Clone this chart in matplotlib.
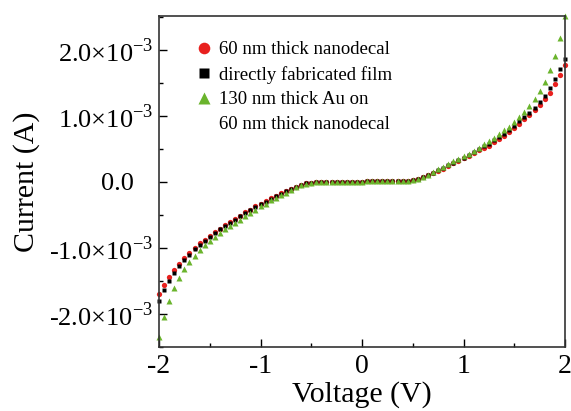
import matplotlib
matplotlib.use("Agg")
import matplotlib.pyplot as plt
from matplotlib.ticker import FuncFormatter, MultipleLocator
import numpy as np

plt.rcParams['font.family'] = ['Liberation Serif', 'DejaVu Serif']
plt.rcParams['mathtext.fontset'] = 'custom'
plt.rcParams['mathtext.rm'] = 'Liberation Serif'
plt.rcParams['axes.unicode_minus'] = False

# voltage sweep, -2 V to 2 V in 0.05 V steps
voltage = np.round(np.arange(-2.0, 2.0001, 0.05), 2)

flat_neg = [-0.005] * 10          # -0.45 .. 0.00
flat_pos = [0.015] * 9            # 0.05 .. 0.45

# currents in units of 1e-3 A
i_nanodecal = ([-1.70, -1.56, -1.44, -1.33, -1.24, -1.15, -1.07, -1.00, -0.93, -0.88,
                -0.82, -0.76, -0.71, -0.65, -0.60, -0.56, -0.51, -0.46, -0.42, -0.37,
                -0.33, -0.29, -0.25, -0.21, -0.17, -0.14, -0.10, -0.07, -0.04, -0.02,
                -0.01] + flat_neg + flat_pos +
               [0.03, 0.04, 0.07, 0.10, 0.13, 0.17, 0.20, 0.24, 0.28, 0.32,
                0.36, 0.40, 0.44, 0.48, 0.52, 0.55, 0.60, 0.65, 0.70, 0.76,
                0.82, 0.88, 0.95, 1.02, 1.09, 1.17, 1.25, 1.35, 1.48, 1.62, 1.77])

i_direct = ([-1.80, -1.64, -1.50, -1.38, -1.28, -1.18, -1.10, -1.02, -0.96, -0.90,
             -0.84, -0.78, -0.72, -0.67, -0.62, -0.57, -0.52, -0.47, -0.43, -0.38,
             -0.34, -0.30, -0.26, -0.22, -0.18, -0.14, -0.11, -0.07, -0.04, -0.02,
             -0.01] + flat_neg + flat_pos +
            [0.03, 0.045, 0.075, 0.105, 0.14, 0.18, 0.21, 0.25, 0.29, 0.33,
             0.37, 0.41, 0.45, 0.50, 0.54, 0.58, 0.63, 0.68, 0.73, 0.79,
             0.85, 0.92, 0.99, 1.05, 1.12, 1.21, 1.31, 1.43, 1.56, 1.71, 1.87])

i_au = ([-2.35, -2.04, -1.80, -1.61, -1.45, -1.32, -1.21, -1.12, -1.03, -0.96,
         -0.89, -0.83, -0.78, -0.72, -0.67, -0.62, -0.57, -0.52, -0.47, -0.42,
         -0.37, -0.33, -0.28, -0.24, -0.20, -0.16, -0.12, -0.08, -0.05, -0.025,
         -0.01] + flat_neg + flat_pos +
        [0.03, 0.045, 0.075, 0.11, 0.15, 0.19, 0.22, 0.27, 0.31, 0.35,
         0.39, 0.43, 0.47, 0.52, 0.57, 0.62, 0.67, 0.72, 0.78, 0.84,
         0.91, 0.98, 1.06, 1.15, 1.25, 1.38, 1.52, 1.70, 1.91, 2.18, 2.52])

labels = ["60 nm thick nanodecal", "directly fabricated film",
          "130 nm thick Au on", "60 nm thick nanodecal"]

fig = plt.figure(figsize=(5.71, 4.11), dpi=100)
ax = fig.add_axes([0.2785, 0.156, 0.711, 0.805])

ax.plot(voltage, np.array(i_nanodecal) * 1e-3, 'o', color='#e8201e', ms=3.8,
        mec='none', label=labels[0], clip_on=False)
ax.plot(voltage, np.array(i_direct) * 1e-3, 's', color='black', ms=3.4,
        mec='none', label=labels[1], clip_on=False)
ax.plot(voltage, np.array(i_au) * 1e-3, '^', color='#6ab42c', ms=4.2,
        mec='none', label=labels[2], clip_on=False)
# second line of the third legend entry, no marker
ax.plot([], [], ' ', label=labels[3])

ax.set_xlim(-2, 2)
ax.set_ylim(-2.5e-3, 2.515e-3)
ax.xaxis.set_major_locator(MultipleLocator(1))
ax.xaxis.set_minor_locator(MultipleLocator(0.5))
ax.yaxis.set_major_locator(MultipleLocator(1e-3))
ax.yaxis.set_minor_locator(MultipleLocator(0.5e-3))


def fmt_current(v, pos):
    if abs(v) < 1e-9:
        return "0.0   "
    return "%.1f×10$^{\\mathregular{-3}}$" % (v * 1e3)


ax.yaxis.set_major_formatter(FuncFormatter(fmt_current))
ax.xaxis.set_major_formatter(FuncFormatter(lambda v, p: "%d" % round(v)))

ax.tick_params(which='both', direction='in', top=False, right=False)
ax.tick_params(which='major', length=5.5, width=1.0)
ax.tick_params(which='minor', length=3, width=1.0)
ax.tick_params(axis='x', labelsize=20, pad=5)
ax.tick_params(axis='y', labelsize=19, pad=4)
for s in ax.spines.values():
    s.set_linewidth(1.2)
    s.set_color('#333333')

ax.set_xlabel("Voltage (V)", fontsize=21.5, labelpad=1.5)
ax.set_ylabel("Current (A)", fontsize=21.5, labelpad=7)

ax.legend(loc='upper left', bbox_to_anchor=(0.078, 0.947), frameon=False,
          fontsize=13.5, markerscale=2.2, handlelength=0.6, handletextpad=0.5,
          labelspacing=0.4, borderaxespad=0)

fig.savefig("out.png", dpi=100)
